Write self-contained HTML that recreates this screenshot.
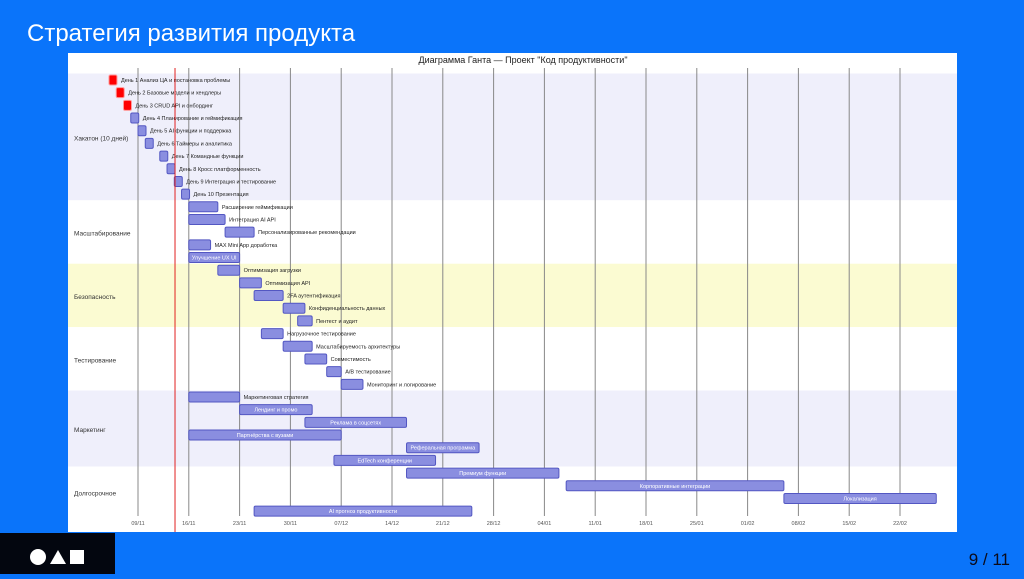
<!DOCTYPE html>
<html><head><meta charset="utf-8">
<style>
html,body{margin:0;padding:0;width:1024px;height:574px;overflow:hidden;background:#0a74fa;font-family:"Liberation Sans",sans-serif;}
#title{position:absolute;left:27px;top:20px;color:#fff;font-size:24px;}
#panel{position:absolute;left:68px;top:53px;width:889px;height:479px;background:#fff;}
#logo{position:absolute;left:0;top:533px;width:115px;height:41px;background:#03060f;}
#pg{position:absolute;right:14px;top:550px;font-size:17px;color:#0b0b1a;}
</style></head><body>
<div id="title">Стратегия развития продукта</div>
<div id="panel">
<svg id="chart" width="889" height="479"></svg>
</div>
<div id="logo">
<svg width="115" height="41"><circle cx="38" cy="24" r="8" fill="#fff"/><polygon points="50,31 58,17 66,31" fill="#fff"/><rect x="70" y="17" width="14" height="14" fill="#fff"/></svg>
</div>
<div id="pg">9 / 11</div>
<script>
const sections=["Хакатон (10 дней)","Масштабирование","Безопасность","Тестирование","Маркетинг","Долгосрочное"];
const sectionSizes=[10,5,5,5,6,4];
const taskNames=["День 1 Анализ ЦА и постановка проблемы","День 2 Базовые модели и хендлеры","День 3 CRUD API и онбординг","День 4 Планирование и геймификация","День 5 AI функции и поддержка","День 6 Таймеры и аналитика","День 7 Командные функции","День 8 Кросс платформенность","День 9 Интеграция и тестирование","День 10 Презентация",
"Расширение геймификации","Интеграция AI API","Персонализированные рекомендации","MAX Mini App доработка","Улучшение UX UI",
"Оптимизация загрузки","Оптимизация API","2FA аутентификация","Конфиденциальность данных","Пентест и аудит",
"Нагрузочное тестирование","Масштабируемость архитектуры","Совместимость","A/B тестирование","Мониторинг и логирование",
"Маркетинговая стратегия","Лендинг и промо","Реклама в соцсетях","Партнёрства с вузами","Реферальная программа","EdTech конференции",
"Премиум функции","Корпоративные интеграции","Локализация","AI прогноз продуктивности"];
const taskStart=[-4,-3,-2,-1,0,1,3,4,5,6, 7,7,12,7,7, 11,14,16,20,22, 17,20,23,26,28, 7,14,23,7,37,27, 37,59,89,16];
const taskDur=[1,1,1,1,1,1,1,1,1,1, 4,5,4,3,7, 3,3,4,3,2, 3,4,3,2,3, 7,10,14,21,10,14, 21,30,21,30];
const critical=[1,1,1,0,0,0,0,0,0,0];
const tickLabels=["09/11","16/11","23/11","30/11","07/12","14/12","21/12","28/12","04/01","11/01","18/01","25/01","01/02","08/02","15/02","22/02"];
const todayOffset=5.1;

const NS="http://www.w3.org/2000/svg";
const svg=document.getElementById('chart');
const X0=70, PXD=50.8/7, ROW0=27, ROWH=12.68, BARH=10;
const xs=d=>X0+d*PXD;
const ys=i=>ROW0+i*ROWH;
function el(t,a){const e=document.createElementNS(NS,t);for(const k in a)e.setAttribute(k,a[k]);svg.appendChild(e);return e;}
const bandCols=["#efeffb","#ffffff","#fbfbd2","#ffffff","#efeffb","#ffffff"];
let r=0;
sections.forEach((s,i)=>{
  const b=el('rect',{x:0,y:ys(r)-6.5,width:889,height:sectionSizes[i]*ROWH,fill:bandCols[i]});
  
  
  const t=el('text',{x:6,y:ys(r)+sectionSizes[i]*ROWH/2-3,'font-size':6.5,fill:'#333'});
  t.textContent=s;
  
  
  r+=sectionSizes[i];
});
const tt=el('text',{x:455,y:10,'font-size':9,'text-anchor':'middle',fill:'#222'});
tt.textContent='Диаграмма Ганта — Проект "Код продуктивности"';


tickLabels.forEach((lab,i)=>{
  const x=xs(i*7);
  const g=el('line',{x1:x,y1:15,x2:x,y2:463,stroke:'#888','stroke-width':1});
  
  
  const t=el('text',{x:x,y:472,'font-size':5.5,'text-anchor':'middle',fill:'#555'});
  t.textContent=lab;
  
  
});
taskNames.forEach((n,i)=>{
  const x=xs(taskStart[i]), w=Math.max(taskDur[i]*PXD,8), y=ys(i)-BARH/2;
  const crit=critical[i]===1;
  const b=el('rect',{x:x,y:y,width:w,height:BARH,rx:1.5,fill:crit?'#ff0000':'#8a8ee0',stroke:crit?'#ff9999':'#5357c2','stroke-width':1});
  
  
  const approx=n.length*3.2;
  let t;
  if(approx<w-2){t=el('text',{x:x+w/2,y:ys(i)+2,'font-size':5.5,'text-anchor':'middle',fill:'#fff'});}
  else{t=el('text',{x:x+w+4,y:ys(i)+2,'font-size':5.5,fill:'#222'});}
  t.textContent=n;
  
  
});
const tl=el('line',{x1:xs(todayOffset),y1:15,x2:xs(todayOffset),y2:479,stroke:'#e02020','stroke-width':1});


</script>
</body></html>
